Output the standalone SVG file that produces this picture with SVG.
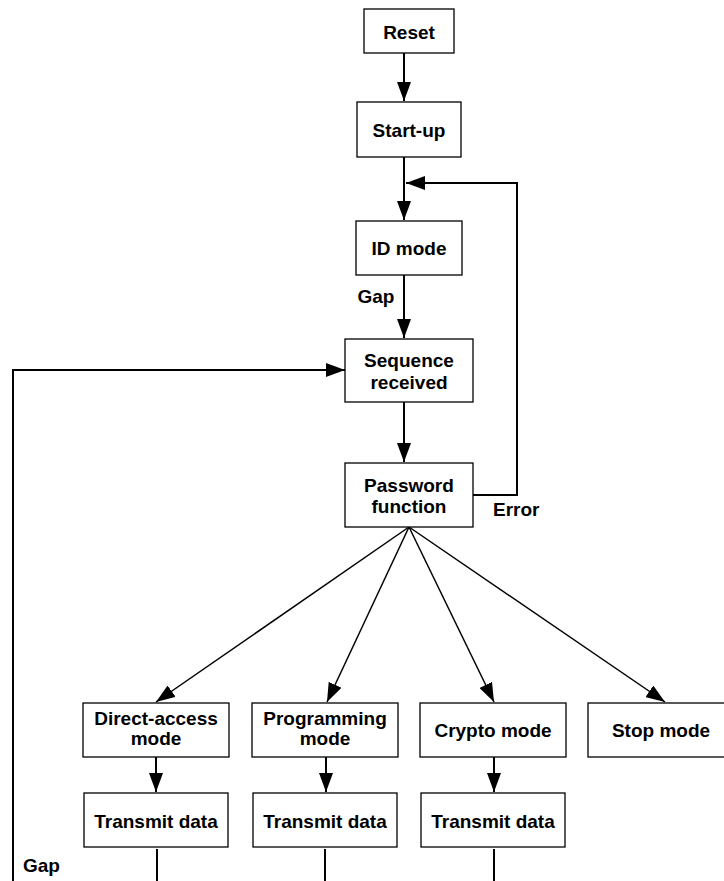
<svg xmlns="http://www.w3.org/2000/svg" width="724" height="881" viewBox="0 0 724 881">
<defs>
<style>
.box{fill:#fff;stroke:#000;stroke-width:1.3}
text{font-family:"Liberation Sans",Arial,Helvetica,sans-serif;font-weight:bold;font-size:19px;fill:#000;text-anchor:middle}
.lbl{text-anchor:start}
.c{fill:none;stroke:#000;stroke-width:2}
.d{fill:none;stroke:#000;stroke-width:1.5}
</style>
<marker id="ah" markerWidth="19" markerHeight="14" refX="19" refY="7" orient="auto" markerUnits="userSpaceOnUse">
<path d="M0,0 L19,7 L0,14 z" fill="#000"/>
</marker>
</defs>
<rect width="724" height="881" fill="#fff"/>
<g id="connectors">
<line class="c" x1="404" y1="53" x2="404" y2="101" marker-end="url(#ah)"/>
<line class="c" x1="404" y1="157" x2="404" y2="220" marker-end="url(#ah)"/>
<polyline class="c" points="473,495 517,495 517,183 406,183" marker-end="url(#ah)"/>
<line class="c" x1="404" y1="275" x2="404" y2="338" marker-end="url(#ah)"/>
<line class="c" x1="404" y1="402" x2="404" y2="462" marker-end="url(#ah)"/>
<polyline class="c" points="13,881 13,370 345,370" marker-end="url(#ah)"/>
<line class="d" x1="409" y1="527" x2="156" y2="702" marker-end="url(#ah)"/>
<line class="d" x1="409" y1="527" x2="327" y2="702" marker-end="url(#ah)"/>
<line class="d" x1="409" y1="527" x2="494" y2="702" marker-end="url(#ah)"/>
<line class="d" x1="409" y1="527" x2="665" y2="702" marker-end="url(#ah)"/>
<line class="c" x1="156" y1="757" x2="156" y2="792" marker-end="url(#ah)"/>
<line class="c" x1="326" y1="757" x2="326" y2="792" marker-end="url(#ah)"/>
<line class="c" x1="494" y1="757" x2="494" y2="792" marker-end="url(#ah)"/>
<line class="c" x1="157" y1="849" x2="157" y2="881"/>
<line class="c" x1="325" y1="849" x2="325" y2="881"/>
<line class="c" x1="494" y1="849" x2="494" y2="881"/>
</g>
<g id="reset"><rect class="box" x="364" y="9" width="90" height="44"/><text x="409" y="39">Reset</text></g>
<g id="startup"><rect class="box" x="357" y="102" width="104" height="55"/><text x="409" y="137">Start-up</text></g>
<g id="idmode"><rect class="box" x="356" y="221" width="106" height="54"/><text x="409" y="255">ID mode</text></g>
<g id="gap1"><text x="376" y="303">Gap</text></g>
<g id="sequence"><rect class="box" x="345" y="339" width="128" height="63"/><text x="409" y="367">Sequence</text><text x="409" y="389">received</text></g>
<g id="password"><rect class="box" x="345" y="463" width="128" height="64"/><text x="409" y="492">Password</text><text x="409" y="513">function</text></g>
<g id="error"><text class="lbl" x="493" y="516">Error</text></g>
<g id="direct"><rect class="box" x="83" y="703" width="146" height="54"/><text x="156" y="725">Direct-access</text><text x="156" y="745">mode</text></g>
<g id="programming"><rect class="box" x="252" y="703" width="146" height="54"/><text x="325" y="725">Programming</text><text x="325" y="745">mode</text></g>
<g id="crypto"><rect class="box" x="420" y="703" width="146" height="54"/><text x="493" y="737">Crypto mode</text></g>
<g id="stop"><rect class="box" x="588" y="703" width="146" height="54"/><text x="661" y="737">Stop mode</text></g>
<g id="transmit1"><rect class="box" x="84" y="793" width="144" height="54"/><text x="156" y="828">Transmit data</text></g>
<g id="transmit2"><rect class="box" x="253" y="793" width="144" height="54"/><text x="325" y="828">Transmit data</text></g>
<g id="transmit3"><rect class="box" x="421" y="793" width="144" height="54"/><text x="493" y="828">Transmit data</text></g>
<g id="gap2"><text class="lbl" x="23" y="872">Gap</text></g>
</svg>
